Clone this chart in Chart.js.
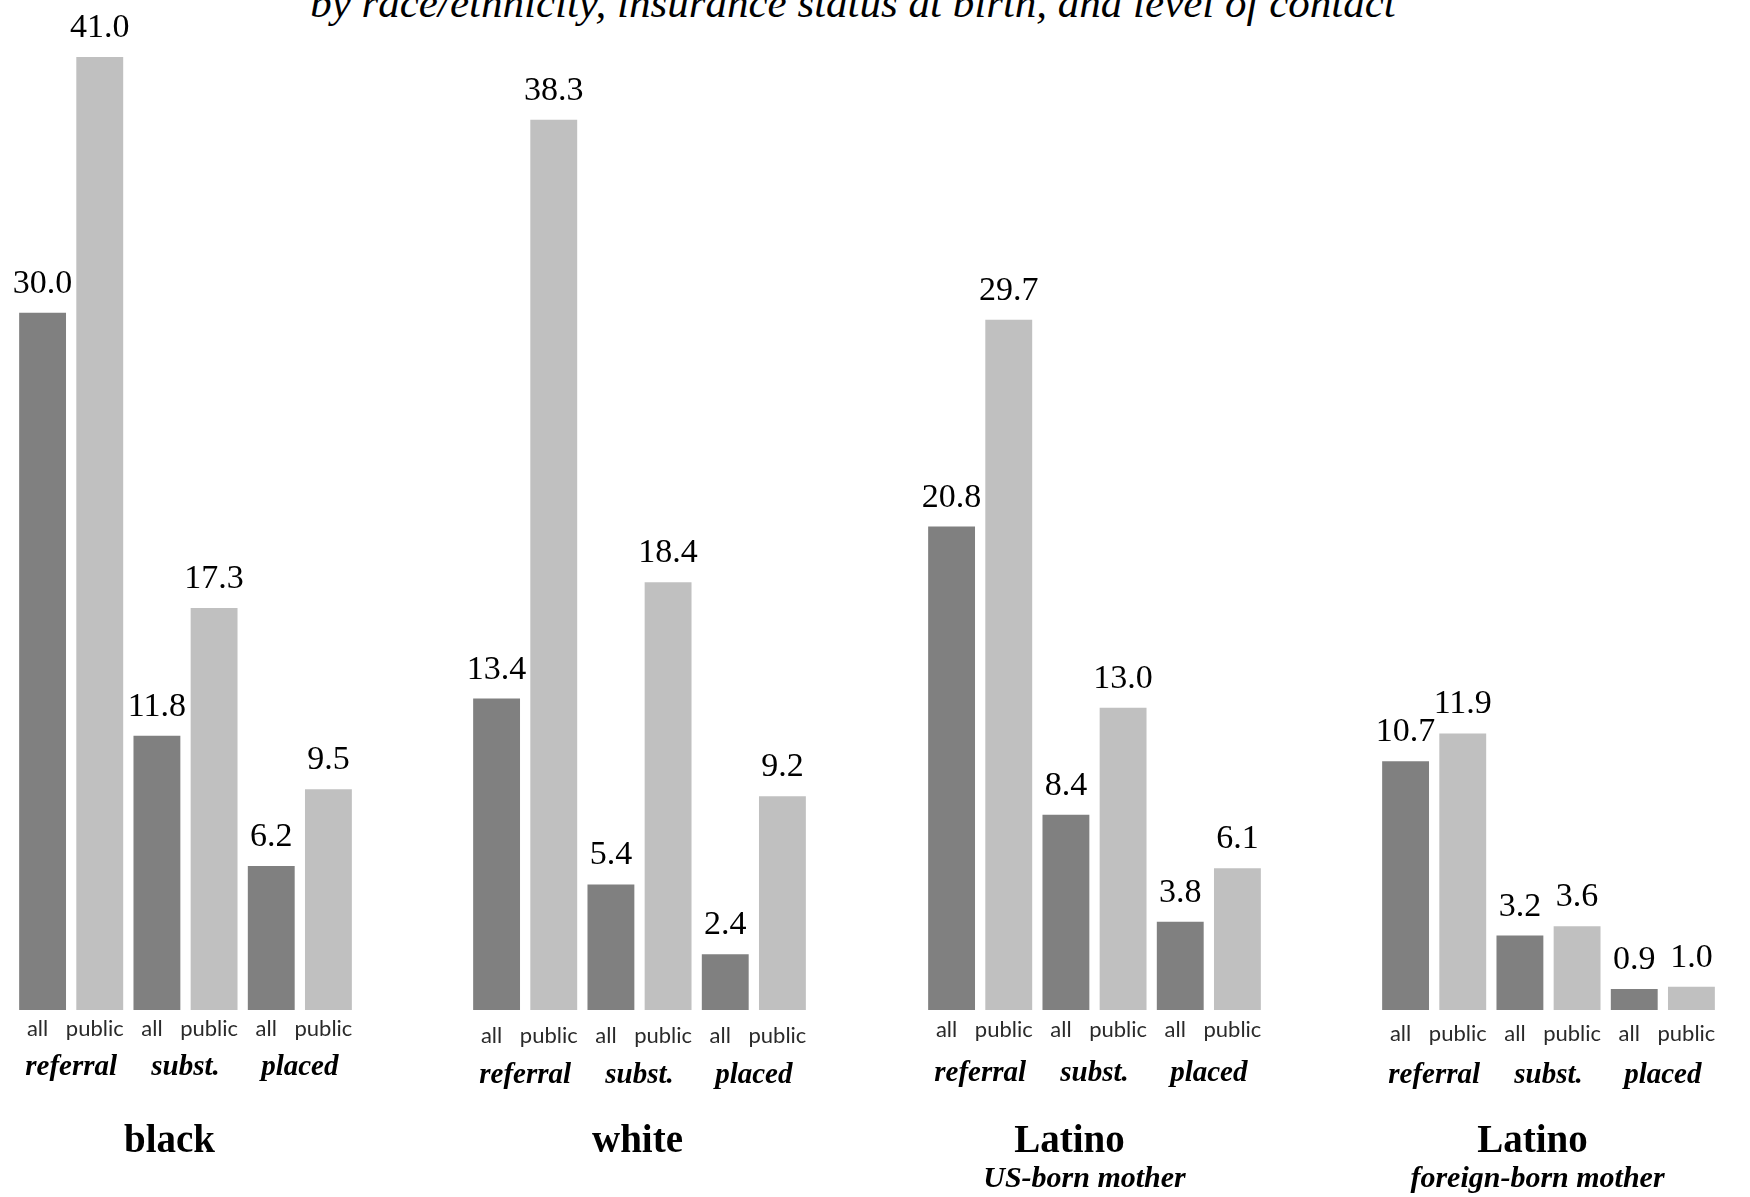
<html>
  <head>
    <title>Contact by race/ethnicity and insurance status</title>
    <script src="https://cdn.jsdelivr.net/npm/chart.js"></script>
    <style>
      body {
        margin: 0;
        background: #fff;
      }
      #page {
        position: relative;
        width: 1750px;
        height: 1197px;
        overflow: hidden;
      }
      .title {
        position: absolute;
        left: 0;
        top: -19px;
        width: 1706px;
        text-align: center;
        font: italic 43px "Liberation Serif", serif;
        line-height: 43px;
        white-space: nowrap;
        color: #000;
      }
      .panel {
        position: absolute;
        top: 0;
        width: 383px;
        height: 1197px;
      }
    </style>
  </head>
  <body>
    <div id="page">
      <div class="title">by race/ethnicity, insurance status at birth, and level of contact</div>
      <div class="panel" id="p0"><canvas id="c0"></canvas></div>
      <div class="panel" id="p1"><canvas id="c1"></canvas></div>
      <div class="panel" id="p2"><canvas id="c2"></canvas></div>
      <div class="panel" id="p3"><canvas id="c3"></canvas></div>
    </div>

    <script>
      // data
      const categories = ['all', 'public', 'all', 'public', 'all', 'public'];
      const groups = ['referral', 'subst.', 'placed'];
      const panelNames = ['black', 'white', 'Latino', 'Latino'];
      const panelSubtitles = ['', '', 'US-born mother', 'foreign-born mother'];

      const blackValues = [30.0, 41.0, 11.8, 17.3, 6.2, 9.5];
      const whiteValues = [13.4, 38.3, 5.4, 18.4, 2.4, 9.2];
      const latinoUsValues = [20.8, 29.7, 8.4, 13.0, 3.8, 6.1];
      const latinoForeignValues = [10.7, 11.9, 3.2, 3.6, 0.9, 1.0];

      const panelValues = [blackValues, whiteValues, latinoUsValues, latinoForeignValues];

      // layout of the four panels
      const panelLeft = [-6.5, 448, 902.5, 1357];
      const tickShift = [0, 7, 1, 5];
      const groupShift = [0, 8, 6, 8];
      const nameShift = [-16, -2, -25, -16];
      const subShift = [0, 0, -10, -11];

      const darkGray = '#808080';
      const lightGray = '#c0c0c0';

      const panelLabels = {
        id: 'panelLabels',
        afterDatasetsDraw(chart, args, opts) {
          const ctx = chart.ctx;
          const meta = chart.getDatasetMeta(0);
          const values = chart.data.datasets[0].data;
          const x = chart.scales.x;
          const base = chart.chartArea.bottom;
          const mid = (chart.chartArea.left + chart.chartArea.right) / 2;

          ctx.save();
          ctx.fillStyle = '#000';
          ctx.textAlign = 'center';
          ctx.textBaseline = 'alphabetic';

          // value labels above bars
          ctx.font = '34px "Liberation Serif"';
          meta.data.forEach((bar, i) => {
            ctx.fillText(values[i].toFixed(1), bar.x, bar.y - 20);
          });

          // level of contact
          ctx.font = 'bold italic 29px "Liberation Serif"';
          groups.forEach((g, k) => {
            const cx = (x.getPixelForValue(2 * k) + x.getPixelForValue(2 * k + 1)) / 2;
            ctx.fillText(g, cx, base + 65 + opts.groupShift);
          });

          // panel name
          ctx.font = 'bold 39px "Liberation Serif"';
          ctx.fillText(opts.name, mid + opts.nameShift, base + 142);
          if (opts.subtitle) {
            ctx.font = 'bold italic 30px "Liberation Serif"';
            ctx.fillText(opts.subtitle, mid + opts.subShift, base + 177);
          }
          ctx.restore();
        }
      };

      panelValues.forEach((vals, p) => {
        document.getElementById('p' + p).style.left = panelLeft[p] + 'px';
        const ctx = document.getElementById('c' + p).getContext('2d');
        new Chart(ctx, {
          type: 'bar',
          data: {
            labels: categories,
            datasets: [{
              data: vals,
              backgroundColor: categories.map((c, i) => i % 2 === 0 ? darkGray : lightGray),
              borderWidth: 0,
              categoryPercentage: 1,
              barPercentage: 0.82
            }]
          },
          options: {
            responsive: true,
            maintainAspectRatio: false,
            animation: false,
            layout: { padding: { top: 57, left: 20, right: 20, bottom: 0 } },
            scales: {
              y: { display: false, min: 0, max: 41 },
              x: {
                grid: { display: false, drawTicks: false },
                border: { display: false },
                ticks: {
                  font: { family: 'Lato', size: 22 },
                  color: '#2a2a2a',
                  padding: 6 + tickShift[p],
                  labelOffset: -5,
                  autoSkip: false,
                  maxRotation: 0
                },
                afterFit: (scale) => { scale.height = 187; }
              }
            },
            plugins: {
              legend: { display: false },
              tooltip: { enabled: false },
              panelLabels: {
                name: panelNames[p],
                subtitle: panelSubtitles[p],
                groupShift: groupShift[p],
                nameShift: nameShift[p],
                subShift: subShift[p]
              }
            }
          },
          plugins: [panelLabels]
        });
      });
    </script>
  </body>
</html>
